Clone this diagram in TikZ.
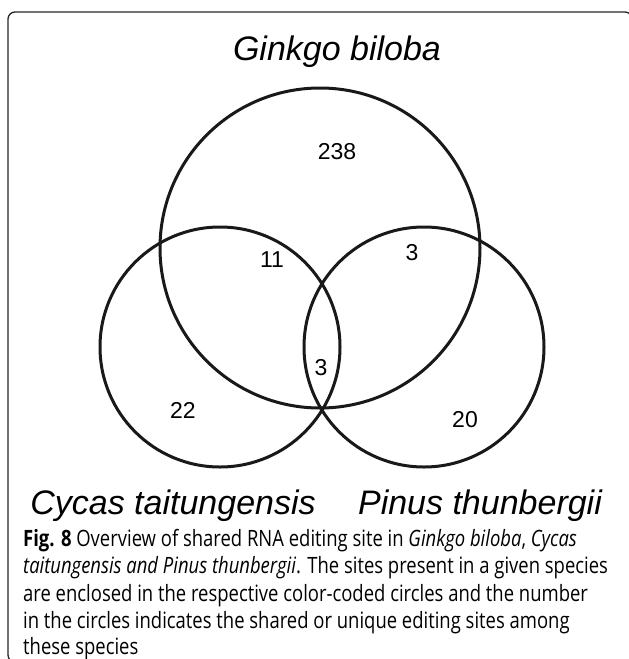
\documentclass[tikz,border=0pt]{standalone}
\usepackage{fontspec}
\setmainfont{Liberation Sans}
\newfontfamily\capfont[FakeStretch=0.82]{Open Sans}
\begin{document}
\begin{tikzpicture}[x=1pt,y=-1pt]
\tikzset{
 venn/.style={circle, draw=black!90, line width=3pt, inner sep=0pt, outer sep=0pt},
 species/.style={font=\fontsize{34}{40}\selectfont\itshape, anchor=base, inner sep=0pt},
 count/.style={font=\fontsize{23}{27}\selectfont, inner sep=0pt},
 capline/.style={font=\capfont\fontsize{22.5}{26}\selectfont, anchor=base west, inner sep=0pt},
 framepath/.style={draw=black!85, line width=1.3pt, rounded corners=7pt}
}
\useasboundingbox (0,0) rectangle (629,659);
% frame
\draw[framepath] (700,662) -- (8,662) -- (8,12) -- (632,12) -- (632,100);
% circles
\node[venn, minimum size=320pt] (G) at (320,248) {};
\node[venn, minimum size=240pt] (C) at (220,347) {};
\node[venn, minimum size=240pt] (P) at (424,347) {};
% species labels
\node[species] (gl) at (337,60) {Ginkgo biloba};
\node[species] (cl) at (173,514) {Cycas taitungensis};
\node[species] (pl) at (480,514) {Pinus thunbergii};
% counts
\node[count] (n1) at (337,152) {238};
\node[count] (n2) at (272,260) {11};
\node[count] (n3) at (412,253) {3};
\node[count] (n4) at (321,368) {3};
\node[count] (n5) at (183,410) {22};
\node[count] (n6) at (465,420) {20};
% caption
\node[capline] (c1) at (23,546) {\textbf{Fig. 8} Overview of shared RNA editing site in \textit{Ginkgo biloba}, \textit{Cycas}};
\node[capline] (c2) at (23,573.5) {\textit{taitungensis and Pinus thunbergii}. The sites present in a given species};
\node[capline] (c3) at (23,601) {are enclosed in the respective color-coded circles and the number};
\node[capline] (c4) at (23,628.5) {in the circles indicates the shared or unique editing sites among};
\node[capline] (c5) at (23,654) {these species};
\end{tikzpicture}
\end{document}
